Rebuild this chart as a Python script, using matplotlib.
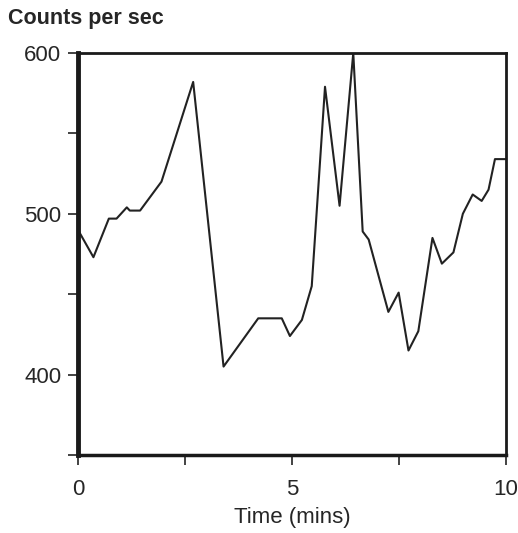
import matplotlib
matplotlib.use('Agg')
import matplotlib.pyplot as plt
from matplotlib.ticker import FixedLocator

plt.rcParams['font.family'] = ['Liberation Sans', 'DejaVu Sans']

# readings (time in minutes, counts per second)
time_min = [0.0, 0.36, 0.72, 0.9, 1.14, 1.21, 1.45, 1.95, 2.69, 3.40, 4.21, 4.76,
            4.95, 5.23, 5.46, 5.77, 6.11, 6.43, 6.65, 6.79, 7.25, 7.49, 7.72, 7.95,
            8.28, 8.5, 8.77, 8.99, 9.22, 9.43, 9.59, 9.74, 10.0]
counts = [490, 473, 497, 497, 504, 502, 502, 520, 582, 405, 435, 435,
          424, 434, 455, 579, 505, 600, 489, 484, 439, 451, 415, 427,
          485, 469, 476, 500, 512, 508, 515, 534, 534]

x_major = [0, 5, 10]
x_minor = [2.5, 7.5]
y_major = [400, 500, 600]
y_minor = [350, 450, 550]

TEXT = '#262626'

fig = plt.figure(figsize=(5.18, 5.33), dpi=100)
ax = fig.add_axes([0.1506, 0.1463, 0.8264, 0.7543])

ax.plot(time_min, counts, color='#222222', linewidth=1.5)

ax.set_xlim(0, 10)
ax.set_ylim(350, 600)

ax.xaxis.set_major_locator(FixedLocator(x_major))
ax.xaxis.set_minor_locator(FixedLocator(x_minor))
ax.yaxis.set_major_locator(FixedLocator(y_major))
ax.yaxis.set_minor_locator(FixedLocator(y_minor))

ax.tick_params(which='both', direction='out', length=7, width=1.2, color='#222222',
               labelsize=16, labelcolor=TEXT)
ax.tick_params(axis='x', pad=10)
ax.tick_params(axis='y', pad=5)

ax.spines['left'].set_linewidth(3.5)
ax.spines['bottom'].set_linewidth(2.5)
ax.spines['top'].set_linewidth(2)
ax.spines['right'].set_linewidth(2)
for s in ax.spines.values():
    s.set_color('#1a1a1a')

ax.set_xlabel('Time (mins)', fontsize=16, color=TEXT, labelpad=5)
fig.text(0.015, 0.966, 'Counts per sec', fontsize=15.5, fontweight='bold', color=TEXT,
         ha='left', va='center')

plt.savefig('out.png', dpi=100)
plt.close()
